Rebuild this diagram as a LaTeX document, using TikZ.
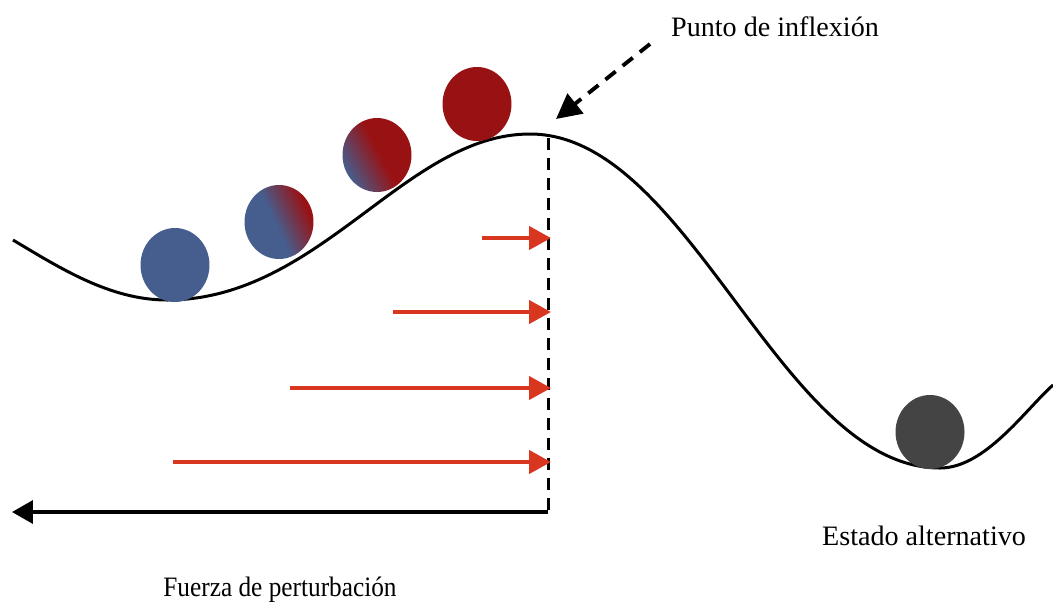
\documentclass[tikz,border=0pt]{standalone}
\usepackage{fontspec}
\setmainfont{Liberation Serif}
\usetikzlibrary{arrows.meta,shapes.geometric}
\definecolor{ballblue}{RGB}{70,94,142}
\definecolor{ballred}{RGB}{152,18,20}
\definecolor{balldark}{RGB}{68,68,68}
\definecolor{forcered}{RGB}{216,54,30}
\pgfdeclarehorizontalshading{ballmixA}{100bp}{color(0bp)=(ballblue); color(47bp)=(ballblue); color(72bp)=(ballred); color(100bp)=(ballred)}
\pgfdeclarehorizontalshading{ballmixB}{100bp}{color(0bp)=(ballblue); color(25bp)=(ballblue); color(52bp)=(ballred); color(100bp)=(ballred)}
\tikzset{
  ball/.style={ellipse, inner sep=0pt, minimum width=1.38cm, minimum height=1.48cm},
  curveline/.style={line width=1.7pt, black},
  force/.style={line width=2.4pt, forcered, -{Triangle[length=0.44cm, width=0.46cm]}},
  lbl/.style={font=\fontsize{16}{19}\selectfont, inner sep=0pt},
  tipline/.style={line width=1.7pt, dash pattern=on 0.24cm off 0.16cm},
}
\begin{document}
\begin{tikzpicture}[x=0.02cm,y=-0.02cm]
\useasboundingbox (0,0) rectangle (1053,603);
% landscape curve
\draw[curveline] (13,240) .. controls (60,268) and (110,300) .. (167,300)
  .. controls (320,300) and (405,134) .. (530,134)
  .. controls (690,134) and (780,468) .. (940,468)
  .. controls (985,468) and (1025,410) .. (1053,385);
% balls
\node[ball, fill=ballblue] (b1) at (175,265) {};
\node[ball, shading=ballmixA, shading angle=25] (b2) at (279,222) {};
\node[ball, shading=ballmixB, shading angle=28] (b3) at (377,155) {};
\node[ball, fill=ballred] (b4) at (477,104) {};
\node[ball, fill=balldark] (b5) at (930,432) {};
% coordinates
\coordinate (pk) at (548,138);
\coordinate (base) at (548,512);
\coordinate (leftend) at (12,512);
\coordinate (a1s) at (482,238); \coordinate (a1e) at (551,238);
\coordinate (a2s) at (393,312); \coordinate (a2e) at (551,312);
\coordinate (a3s) at (290,388); \coordinate (a3e) at (551,388);
\coordinate (a4s) at (173,462); \coordinate (a4e) at (551,462);
\coordinate (ds) at (650,44);
\coordinate (de) at (556,119);
% dashed vertical
\draw[tipline] (pk) -- (base);
% force arrows
\draw[force] (a1s) -- (a1e);
\draw[force] (a2s) -- (a2e);
\draw[force] (a3s) -- (a3e);
\draw[force] (a4s) -- (a4e);
% bottom arrow
\draw[line width=2pt, -{Triangle[length=0.42cm, width=0.46cm]}] (base) -- (leftend);
% tipping point arrow
\draw[line width=2.2pt, dash pattern=on 0.26cm off 0.18cm, -{Triangle[length=0.5cm, width=0.5cm]}] (ds) -- (de);
% labels
\node[lbl, anchor=base] (t1) at (775,36) {Punto de inflexión};
\node[lbl, anchor=base] (t2) at (924,545) {Estado alternativo};
\node[lbl, anchor=base] (t3) at (280,596) {\scalebox{0.9}[1]{Fuerza de perturbación}};
\end{tikzpicture}
\end{document}
